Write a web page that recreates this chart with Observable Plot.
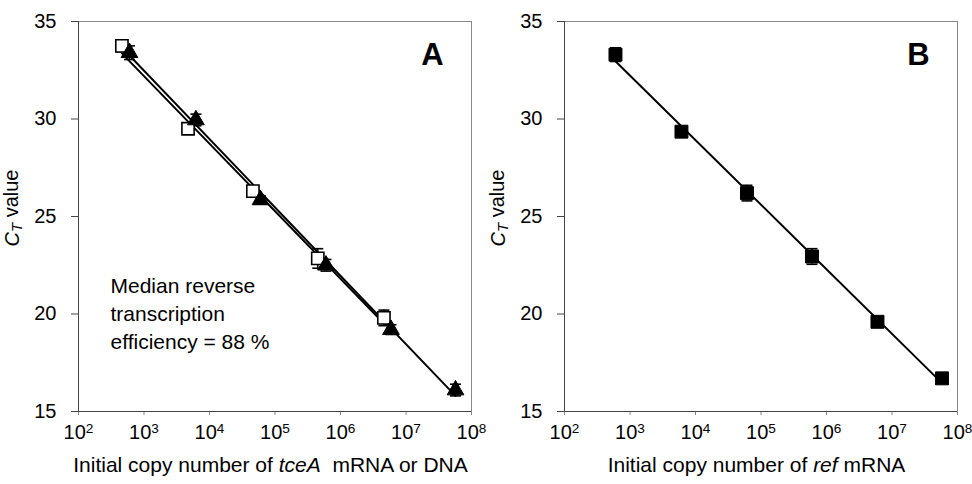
<!DOCTYPE html>
<html><head><meta charset="utf-8">
<script src="https://cdn.jsdelivr.net/npm/d3@7"></script>
<script src="https://cdn.jsdelivr.net/npm/@observablehq/plot@0.6"></script>
<style>
body{margin:0;background:#fff;}
#wrap{display:flex;width:972px;height:484px;}
</style></head><body><div id="wrap"></div>
<script>
// Panel A: tceA mRNA (open squares) and DNA (filled triangles)
const copiesRnaA = [4.6e2, 4.7e3, 4.6e4, 4.5e5, 4.6e6];
const ctRnaA = [33.75, 29.5, 26.3, 22.85, 19.8];
const sdRnaA = [0.3, 0.2, 0.25, 0.5, 0.4];
const copiesDnaA = [6.0e2, 6.2e3, 6.0e4, 6.0e5, 5.9e6, 5.7e7];
const ctDnaA = [33.4, 29.95, 25.85, 22.5, 19.2, 16.1];
const sdDnaA = [0.35, 0.3, 0.2, 0.3, 0.25, 0.3];
// Panel B: ref mRNA (filled squares)
const copiesRefB = [6.0e2, 6.1e3, 6.1e4, 6.0e5, 6.0e6, 5.8e7];
const ctRefB = [33.3, 29.35, 26.2, 22.95, 19.6, 16.7];
const sdRefB = [0.35, 0.2, 0.4, 0.4, 0.2, 0.2];
const xTicks = [1e2, 1e3, 1e4, 1e5, 1e6, 1e7, 1e8];
const yTicks = [15, 20, 25, 30, 35];

const FONT = "'Liberation Sans', Arial, sans-serif";
const W = 486, H = 484, ML = 78, MR = 15, MT = 21, MB = 73;

function rows(xs, ys, es) { return xs.map((x, i) => ({x, y: ys[i], e: es[i]})); }
function fitLine(xs, ys) {
  const lx = xs.map(Math.log10);
  const mx = d3.mean(lx), my = d3.mean(ys);
  const b = d3.sum(lx, (v, i) => (v - mx) * (ys[i] - my)) / d3.sum(lx, v => (v - mx) ** 2);
  const a = my - b * mx;
  const ends = d3.extent(xs);
  return ends.map(x => ({x, y: a + b * Math.log10(x)}));
}
const capSymbol = {draw(ctx, size) { const w = 5.5; ctx.moveTo(-w, 0); ctx.lineTo(w, 0); }};

function errMarks(data) {
  return [
    Plot.ruleX(data, {x: "x", y1: d => d.y - d.e, y2: d => d.y + d.e, stroke: "black", strokeWidth: 1.5}),
    Plot.dot(data, {x: "x", y: d => d.y + d.e, symbol: capSymbol, r: 3, stroke: "black", strokeWidth: 1.6}),
    Plot.dot(data, {x: "x", y: d => d.y - d.e, symbol: capSymbol, r: 3, stroke: "black", strokeWidth: 1.6})
  ];
}

function panel(marks, letter, labelParts) {
  const svg = Plot.plot({
    width: W, height: H, marginLeft: ML, marginRight: MR, marginTop: MT, marginBottom: MB,
    style: {fontFamily: FONT, fontSize: "20px", color: "black", background: "white"},
    x: {type: "log", domain: [1e2, 1e8], label: null},
    y: {domain: [15, 35], label: null},
    marks: [
      Plot.frame({stroke: "#888", strokeWidth: 1}),
      Plot.axisX({ticks: xTicks, tickSize: 4, tickPadding: 9, stroke: "#888", tickFormat: d => "10^" + Math.round(Math.log10(d)), label: null, fontSize: 20}),
      Plot.axisY({ticks: yTicks, tickSize: 7, tickPadding: 15, stroke: "#444", label: null, fontSize: 20}),
      Plot.ruleX([1e2], {stroke: "#444", strokeWidth: 1}),
      Plot.ruleY([15], {stroke: "#444", strokeWidth: 1}),
      ...marks,
      Plot.text([letter], {frameAnchor: "top-right", dx: -39, dy: 21, fontSize: 31, fontWeight: "bold", textAnchor: "middle", lineAnchor: "top", fill: "black"})
    ]
  });
  const s = d3.select(svg);
  s.selectAll('g[aria-label="x-axis tick label"] text').each(function() {
    const t = this.textContent.split("^");
    const el = d3.select(this);
    el.text(null);
    el.append("tspan").text(t[0]);
    el.append("tspan").attr("dy", "-0.45em").attr("font-size", "0.68em").text(t[1]);
  });
  // y-axis label C_T value
  const yl = s.append("text").attr("transform", `translate(19,${(MT + H - MB) / 2 - 8}) rotate(-90)`)
    .attr("text-anchor", "middle").attr("font-family", FONT).attr("font-size", 20).attr("fill", "black");
  yl.append("tspan").attr("font-style", "italic").text("C");
  yl.append("tspan").attr("font-style", "italic").attr("font-size", "0.75em").attr("dy", "0.2em").text("T");
  yl.append("tspan").attr("dy", "-0.2em").text(" value");
  // x-axis label
  const xl = s.append("text").attr("x", (ML + W - MR) / 2 - 4).attr("y", H - 12)
    .attr("text-anchor", "middle").attr("font-family", FONT).attr("font-size", 21).attr("fill", "black")
    .attr("xml:space", "preserve").style("white-space", "pre");
  labelParts.forEach(([txt, it]) => { const t = xl.append("tspan").text(txt); if (it) t.attr("font-style", "italic"); });
  return svg;
}

const rnaA = rows(copiesRnaA, ctRnaA, sdRnaA);
const dnaA = rows(copiesDnaA, ctDnaA, sdDnaA);
const refB = rows(copiesRefB, ctRefB, sdRefB);

const svgA = panel([
  Plot.line(fitLine(copiesRnaA, ctRnaA), {x: "x", y: "y", stroke: "black", strokeWidth: 2}),
  Plot.line(fitLine(copiesDnaA, ctDnaA), {x: "x", y: "y", stroke: "black", strokeWidth: 2}),
  ...errMarks(rnaA), ...errMarks(dnaA),
  Plot.dot(rnaA, {x: "x", y: "y", symbol: "square", r: 6.9, fill: "white", stroke: "black", strokeWidth: 1.6}),
  Plot.dot(dnaA, {x: "x", y: "y", symbol: "triangle", r: 6.2, fill: "black", stroke: "black", strokeWidth: 1}),
  Plot.text(["Median reverse\ntranscription\nefficiency = 88 %"], {frameAnchor: "top-left", dx: 32, dy: 252, textAnchor: "start", lineAnchor: "top", lineHeight: 1.32, fontSize: 21, fill: "black"})
], "A", [["Initial copy number of ", false], ["tceA", true], ["  mRNA or DNA", false]]);

const svgB = panel([
  Plot.line(fitLine(copiesRefB, ctRefB), {x: "x", y: "y", stroke: "black", strokeWidth: 2}),
  ...errMarks(refB),
  Plot.dot(refB, {x: "x", y: "y", symbol: "square", r: 7.3, fill: "black", stroke: "black", strokeWidth: 1})
], "B", [["Initial copy number of ", false], ["ref", true], [" mRNA", false]]);

document.getElementById("wrap").append(svgA, svgB);
</script></body></html>
